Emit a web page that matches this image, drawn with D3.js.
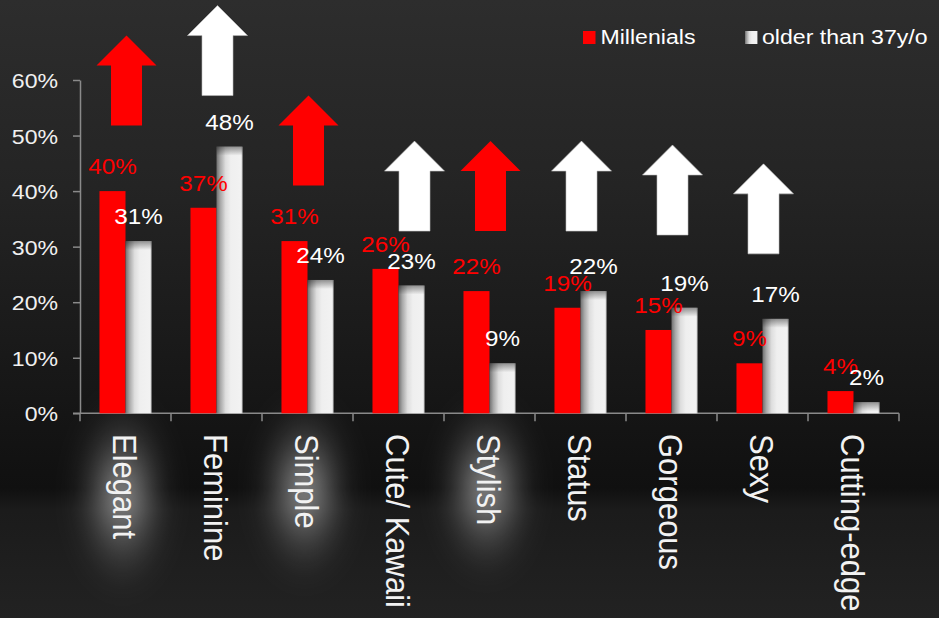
<!DOCTYPE html>
<html>
<head>
<meta charset="utf-8">
<script src="https://cdn.jsdelivr.net/npm/d3@7"></script>
<style>
  html, body { margin: 0; padding: 0; background: #1a1a1a; }
  svg { display: block; }
  text { font-family: "Liberation Sans", Arial, sans-serif; }
</style>
</head>
<body>
<script>
// Chart data (percent)
const categories = ["Elegant", "Feminine", "Simple", "Cute/ Kawaii", "Stylish", "Status", "Gorgeous", "Sexy", "Cutting-edge"];
const millenials = [40, 37, 31, 26, 22, 19, 15, 9, 4];
const olderThan37 = [31, 48, 24, 23, 9, 22, 19, 17, 2];
const seriesNames = ["Millenials", "older than 37y/o"];
const yTicks = [0, 10, 20, 30, 40, 50, 60];
// Trend arrows per category: colour and the value (percent) at which the arrow's base sits
const arrowColors = ["red", "white", "red", "white", "red", "white", "white", "white", null];
const arrowBase = [51.8, 57.2, 41, 32.8, 32.8, 32.8, 32.1, 28.7, null];
// Category labels with a soft glow behind them
const glowing = ["Elegant", "Simple", "Stylish"];

const W = 939, H = 618;
const RED = "#ff0000";
const SX = 1.1; // horizontal text stretch

const svg = d3.select("body").append("svg").attr("width", W).attr("height", H);
const defs = svg.append("defs");

// background
const bg = defs.append("linearGradient").attr("id", "bg").attr("x1", 0).attr("y1", 0).attr("x2", 0).attr("y2", 1);
[[0, "#2d2d2d"], [0.3, "#242424"], [0.55, "#1a1a1a"], [0.79, "#101010"], [0.825, "#1b1b1b"], [1, "#222222"]]
  .forEach(([o, c]) => bg.append("stop").attr("offset", o).attr("stop-color", c));
svg.append("rect").attr("width", W).attr("height", H).attr("fill", "url(#bg)");

// gray bar shading
const gg = defs.append("linearGradient").attr("id", "grayBar").attr("x1", 0).attr("y1", 0).attr("x2", 1).attr("y2", 0);
[[0, "#6f6f6f"], [0.15, "#a8a8a8"], [0.35, "#dedede"], [0.55, "#efefef"], [0.93, "#f2f2f2"], [1, "#cccccc"]]
  .forEach(([o, c]) => gg.append("stop").attr("offset", o).attr("stop-color", c));
const gt = defs.append("linearGradient").attr("id", "grayTop").attr("x1", 0).attr("y1", 0).attr("x2", 0).attr("y2", 1);
gt.append("stop").attr("offset", 0).attr("stop-color", "#000").attr("stop-opacity", 0.4);
gt.append("stop").attr("offset", 1).attr("stop-color", "#000").attr("stop-opacity", 0);

// glow
const rg = defs.append("radialGradient").attr("id", "glowFill");
[[0, 0.6], [0.3, 0.34], [0.6, 0.12], [0.85, 0.03], [1, 0]]
  .forEach(([o, a]) => rg.append("stop").attr("offset", o).attr("stop-color", "#ffffff").attr("stop-opacity", a));
const gf = defs.append("filter").attr("id", "soft").attr("x", "-60%").attr("y", "-60%").attr("width", "220%").attr("height", "220%");
gf.append("feGaussianBlur").attr("stdDeviation", 12);

// scales
const x0 = d3.scaleBand().domain(categories).range([80, 899]).padding(0);
const groupW = x0.bandwidth() * 0.572;
const x1 = d3.scaleBand().domain(seriesNames).range([0, groupW]).padding(0);
const y = d3.scaleLinear().domain([0, 60]).range([413.3, 80]);

const rows = categories.map((c, i) => ({ c, i, vals: [millenials[i], olderThan37[i]] }));

// y axis
const yAxis = svg.append("g").attr("transform", "translate(80,0)")
  .call(d3.axisLeft(y).tickValues(yTicks).tickFormat(d => d + "%").tickSize(7).tickSizeOuter(0));
yAxis.select(".domain").attr("stroke", "#8a8a8a").attr("stroke-width", 1.5);
yAxis.selectAll(".tick line").attr("stroke", "#8a8a8a").attr("stroke-width", 1.5);
yAxis.selectAll(".tick text")
  .attr("x", -20).attr("dy", "0.36em")
  .attr("transform", `scale(${SX},1)`)
  .attr("fill", "#f0f0f0").attr("font-size", 21)
  .attr("font-family", "Liberation Sans, Arial, sans-serif");

// category glows and labels
const labelTop = 434;
const catG = svg.append("g");
const glowG = catG.append("g");
const cats = catG.selectAll("text.cat").data(rows).join("text")
  .attr("class", "cat")
  .attr("transform", d => `translate(${x0(d.c) + x0.bandwidth() / 2},${labelTop}) scale(${SX},1) rotate(90)`)
  .attr("dy", "0.36em")
  .attr("font-size", 31)
  .attr("fill", "#f2f2f2")
  .text(d => d.c);
cats.filter(d => glowing.includes(d.c)).each(function (d) {
  const len = this.getComputedTextLength();
  glowG.append("ellipse")
    .attr("cx", x0(d.c) + x0.bandwidth() / 2 - 3)
    .attr("cy", labelTop + len * 0.5 + 8)
    .attr("rx", 52).attr("ry", len / 2 + 50)
    .attr("fill", "url(#glowFill)")
    .attr("filter", "url(#soft)");
});

// x axis line with boundary ticks
const xAxis = svg.append("g");
xAxis.append("line").attr("x1", 73).attr("x2", x0.range()[1]).attr("y1", y(0)).attr("y2", y(0))
  .attr("stroke", "#8a8a8a").attr("stroke-width", 1.5);
const bounds = categories.map(c => x0(c)).concat([x0.range()[1]]);
xAxis.selectAll("line.tk").data(bounds).join("line").attr("class", "tk")
  .attr("x1", d => d).attr("x2", d => d).attr("y1", y(0)).attr("y2", y(0) + 8)
  .attr("stroke", "#8a8a8a").attr("stroke-width", 1.5);

// bars
const groups = svg.append("g").selectAll("g").data(rows).join("g")
  .attr("transform", d => `translate(${x0(d.c) + (x0.bandwidth() - groupW) / 2},0)`);
groups.append("rect")
  .attr("x", x1(seriesNames[0])).attr("width", x1.bandwidth())
  .attr("y", d => y(d.vals[0])).attr("height", d => y(0) - y(d.vals[0]))
  .attr("fill", RED);
groups.append("rect")
  .attr("x", x1(seriesNames[1])).attr("width", x1.bandwidth())
  .attr("y", d => y(d.vals[1])).attr("height", d => y(0) - y(d.vals[1]))
  .attr("fill", "url(#grayBar)");
groups.append("rect")
  .attr("x", x1(seriesNames[1])).attr("width", x1.bandwidth())
  .attr("y", d => y(d.vals[1])).attr("height", d => Math.min(9, y(0) - y(d.vals[1])))
  .attr("fill", "url(#grayTop)");

// value labels
[0, 1].forEach(s => {
  groups.append("text")
    .attr("transform", d => `translate(${x1(seriesNames[s]) + x1.bandwidth() / 2},${y(d.vals[s]) - 17}) scale(${SX},1)`)
    .attr("text-anchor", "middle")
    .attr("font-size", 22)
    .attr("fill", s === 0 ? RED : "#ffffff")
    .text(d => d.vals[s] + "%");
});

// trend arrows
const arrowDx = { "Cute/ Kawaii": 15 };
const AH = 90, HEAD = 30, HW = 30, SW = 15.5;
const arrowPath = `M0,${-AH} L${HW},${-AH + HEAD} L${SW},${-AH + HEAD} L${SW},0 L${-SW},0 L${-SW},${-AH + HEAD} L${-HW},${-AH + HEAD} Z`;
svg.append("g").selectAll("path").data(rows.filter(r => arrowColors[r.i])).join("path")
  .attr("transform", d => `translate(${x0(d.c) + x0.bandwidth() / 2 + 1 + (arrowDx[d.c] || 0)},${y(arrowBase[d.i])})`)
  .attr("d", arrowPath)
  .attr("fill", d => arrowColors[d.i] === "red" ? RED : "#ffffff")
  .attr("stroke", d => arrowColors[d.i] === "red" ? "none" : "#bdbdbd")
  .attr("stroke-width", 0.6);

// legend
const legend = svg.append("g");
legend.append("rect").attr("x", 583).attr("y", 31).attr("width", 12.5).attr("height", 13).attr("fill", RED);
legend.append("text").attr("transform", `translate(600.5,44) scale(${SX},1)`)
  .attr("font-size", 21).attr("fill", "#ffffff").text(seriesNames[0]);
legend.append("rect").attr("x", 745).attr("y", 31).attr("width", 12.5).attr("height", 13).attr("fill", "url(#grayBar)");
legend.append("text").attr("transform", `translate(762,44) scale(${SX},1)`)
  .attr("font-size", 21).attr("fill", "#ffffff").text(seriesNames[1]);
</script>
</body>
</html>
